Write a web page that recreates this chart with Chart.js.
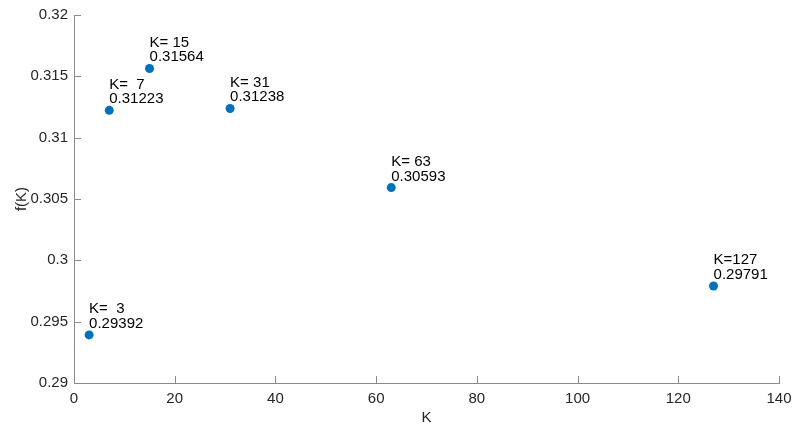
<!DOCTYPE html>
<html>
<head>
<meta charset="utf-8">
<script src="https://cdn.jsdelivr.net/npm/chart.js@4"></script>
<style>
  html, body { margin: 0; padding: 0; background: #ffffff; }
  #wrap { width: 794px; height: 425px; }
</style>
</head>
<body>
<div id="wrap"><canvas id="scatter"></canvas></div>
<script>
// data
var kValues = [3, 7, 15, 31, 63, 127];
var fValues = [0.29392, 0.31223, 0.31564, 0.31238, 0.30593, 0.29791];
var kLabels = ['K=  3', 'K=  7', 'K= 15', 'K= 31', 'K= 63', 'K=127'];
var xTicks = [0, 20, 40, 60, 80, 100, 120, 140];
var yTicks = [0.29, 0.295, 0.3, 0.305, 0.31, 0.315, 0.32];

var FONT = '"Liberation Sans", Arial, Helvetica, sans-serif';
var axisColor = '#8c8c8c';
var textColor = '#262626';

var points = kValues.map(function(k, i) {
    return { x: k, y: fValues[i] };
});

// MATLAB-like inward tick marks
var innerTicks = {
    id: 'innerTicks',
    afterDraw: function(chart) {
        var ctx = chart.ctx;
        var xs = chart.scales.x, ys = chart.scales.y;
        var a = chart.chartArea;
        ctx.save();
        ctx.strokeStyle = axisColor;
        ctx.lineWidth = 1;
        ctx.beginPath();
        xTicks.forEach(function(t) {
            var px = Math.round(xs.getPixelForValue(t)) + 0.5;
            ctx.moveTo(px, a.bottom);
            ctx.lineTo(px, a.bottom - 7);
        });
        yTicks.forEach(function(t) {
            var py = Math.round(ys.getPixelForValue(t)) + 0.5;
            ctx.moveTo(a.left, py);
            ctx.lineTo(a.left + 7, py);
        });
        ctx.stroke();
        ctx.restore();
    }
};

// data tip text next to each point
var pointText = {
    id: 'pointText',
    afterDatasetsDraw: function(chart) {
        var ctx = chart.ctx;
        var xs = chart.scales.x, ys = chart.scales.y;
        ctx.save();
        ctx.fillStyle = '#000000';
        ctx.font = '15px ' + FONT;
        ctx.textAlign = 'left';
        ctx.textBaseline = 'alphabetic';
        kValues.forEach(function(k, i) {
            var px = xs.getPixelForValue(k);
            var py = ys.getPixelForValue(fValues[i]);
            ctx.fillText(kLabels[i], px, py - 21.5);
            ctx.fillText(String(fValues[i]), px, py - 7);
        });
        ctx.restore();
    }
};

var ctx = document.getElementById('scatter').getContext('2d');
var myChart = new Chart(ctx, {
    type: 'scatter',
    data: {
        datasets: [{
            data: points,
            backgroundColor: '#0072BD',
            borderColor: '#0072BD',
            pointRadius: 4.5,
            pointHoverRadius: 4.5,
            borderWidth: 0
        }]
    },
    options: {
        responsive: true,
        maintainAspectRatio: false,
        animation: false,
        events: [],
        layout: { padding: { left: 0, right: 15, top: 15, bottom: 0 } },
        plugins: {
            legend: { display: false },
            tooltip: { enabled: false }
        },
        scales: {
            x: {
                type: 'linear',
                min: 0,
                max: 140,
                afterFit: function(s) {
                    s.height = 42;
                    s.paddingLeft = 0;
                    s.paddingRight = 0;
                },
                afterBuildTicks: function(s) {
                    s.ticks = xTicks.map(function(v) { return { value: v }; });
                },
                grid: { display: false, drawTicks: false },
                border: { display: true, color: axisColor, width: 1 },
                ticks: {
                    padding: 7,
                    color: textColor,
                    font: { family: FONT, size: 15 },
                    callback: function(v) { return String(v); }
                },
                title: {
                    display: true,
                    text: 'K',
                    color: textColor,
                    font: { family: FONT, size: 15, lineHeight: 1 },
                    padding: { top: 0, bottom: 0 }
                }
            },
            y: {
                type: 'linear',
                min: 0.29,
                max: 0.32,
                afterFit: function(s) {
                    s.width = 74;
                    s.paddingTop = 0;
                    s.paddingBottom = 0;
                },
                afterBuildTicks: function(s) {
                    s.ticks = yTicks.map(function(v) { return { value: v }; });
                },
                grid: { display: false, drawTicks: false },
                border: { display: true, color: axisColor, width: 1 },
                ticks: {
                    padding: 6,
                    color: textColor,
                    font: { family: FONT, size: 15 },
                    callback: function(v) { return String(+v.toFixed(3)); }
                },
                title: {
                    display: true,
                    text: 'f(K)',
                    color: textColor,
                    font: { family: FONT, size: 15 },
                    padding: { top: 13, bottom: 0 }
                }
            }
        }
    },
    plugins: [innerTicks, pointText]
});
</script>
</body>
</html>
